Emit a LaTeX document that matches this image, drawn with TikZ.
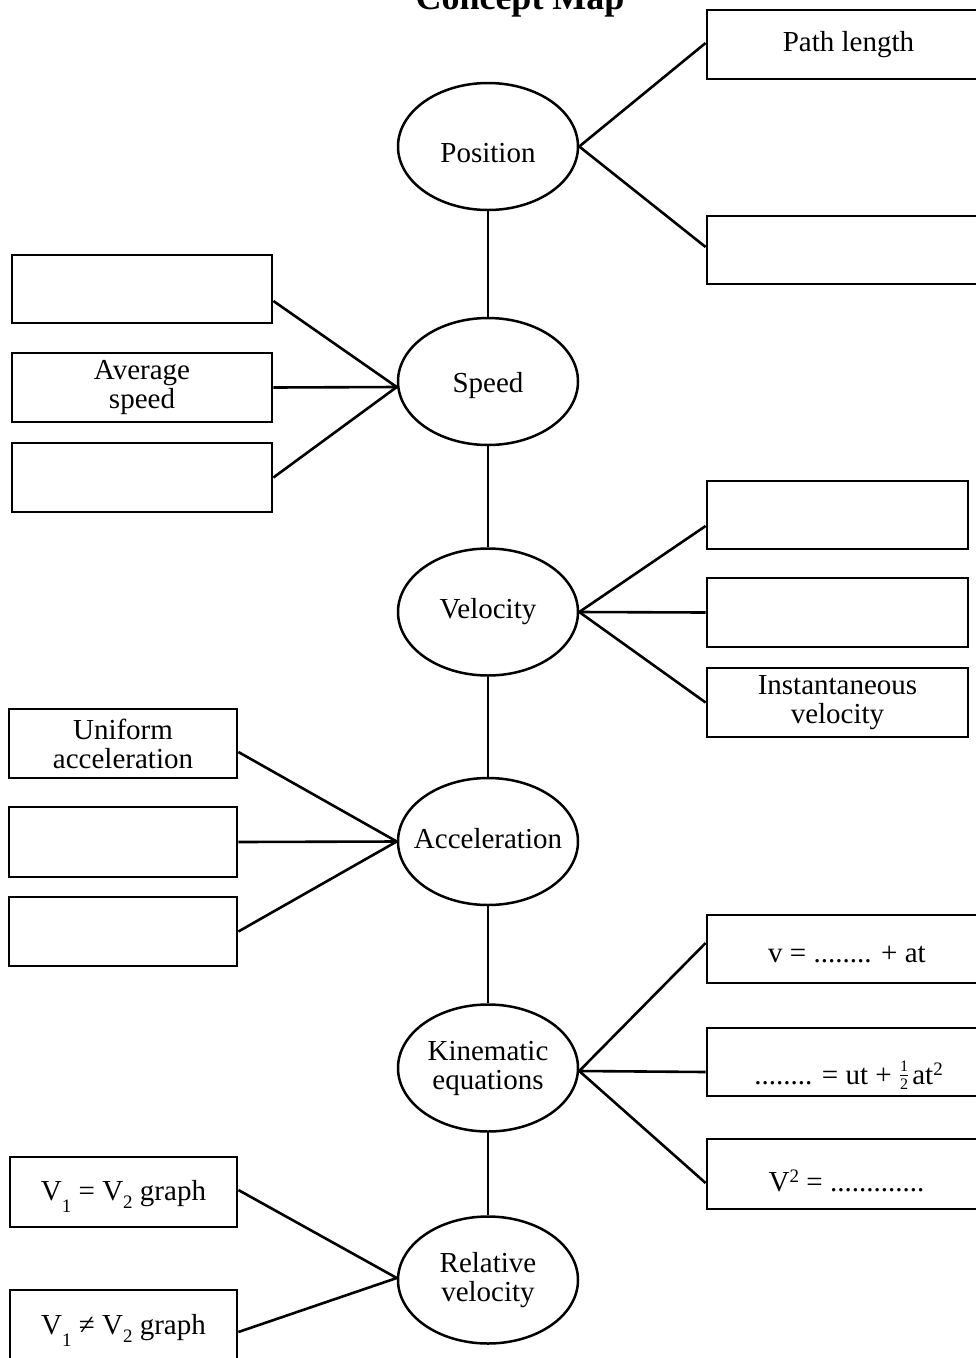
\documentclass[tikz,border=0pt]{standalone}
\usepackage{fontspec}
\setmainfont{Liberation Serif}
\usetikzlibrary{shapes.geometric,calc}
\newcommand\halfsym{\raisebox{3pt}{$\frac{\mbox{\fontsize{16}{16}\selectfont 1}}{\mbox{\fontsize{16}{16}\selectfont 2}}$}}
\newcommand\subdn[2]{\raisebox{#1}{\fontsize{19}{19}\selectfont #2}}
\newcommand\supup[1]{\raisebox{9pt}{\fontsize{19}{19}\selectfont #1}}
\begin{document}
\begin{tikzpicture}[x=1pt,y=-1pt,
  concept/.style={ellipse,draw,line width=2.5pt,minimum width=180pt,minimum height=127pt,inner sep=0pt},
  ctext/.style={align=center,inner sep=0pt,font=\fontsize{29}{29}\selectfont},
  cbox/.style={rectangle,draw,line width=2.8pt,inner sep=0pt,align=center,font=\fontsize{29}{29}\selectfont},
  rbox/.style={cbox,minimum width=283pt},
  vbox/.style={cbox,minimum width=261pt},
  sbox/.style={cbox,minimum width=260pt},
  abox/.style={cbox,minimum width=228pt},
  link/.style={line width=2.6pt}]
\useasboundingbox (0,0) rectangle (976,1358);
\clip (0,0) rectangle (976,1358);

\node[font=\bfseries\fontsize{36}{36}\selectfont,anchor=base,inner sep=0pt] (title) at (520,9) {Concept Map};

% concepts
\node[concept] (pos) at (488,146.5) {};
\node[ctext,anchor=base] (pos-t) at (488,162) {Position};
\node[concept] (spd) at (488,381.5) {};
\node[ctext,anchor=base] (spd-t) at (488,392) {Speed};
\node[concept] (vel) at (488,612) {};
\node[ctext,anchor=base] (vel-t) at (488,618) {Velocity};
\node[concept] (acc) at (488,841.5) {};
\node[ctext,anchor=base] (acc-t) at (488,848) {Acceleration};
\node[concept] (kin) at (488,1068) {};
\node[ctext] (kin-t) at (kin) {Kinematic\\equations};
\node[concept] (rel) at (488,1280) {};
\node[ctext] (rel-t) at (rel) {Relative\\velocity};

% boxes
\node[rbox,minimum height=69pt] (pl) at (848.5,44.5) {Path length};
\node[rbox,minimum height=68pt] (pb2) at (848.5,250) {};

\node[sbox,minimum height=68pt] (sb1) at (142,289) {};
\node[sbox,minimum height=69pt] (sb2) at (142,387.5) {Average\\speed};
\node[sbox,minimum height=69pt] (sb3) at (142,477.5) {};

\node[vbox,minimum height=68pt] (vb1) at (837.5,515) {};
\node[vbox,minimum height=69pt] (vb2) at (837.5,612.5) {};
\node[vbox,minimum height=69pt] (vb3) at (837.5,702.5) {Instantaneous\\velocity};

\node[abox,minimum height=69pt] (ab1) at (123,743.5) {Uniform\\acceleration};
\node[abox,minimum height=70pt] (ab2) at (123,842) {};
\node[abox,minimum height=69pt] (ab3) at (123,931.5) {};

\node[rbox,minimum height=68pt] (kb1) at (848.5,949) {};
\node[ctext,anchor=base] (kb1-t) at (847,962) {v = ........ + at};
\node[rbox,minimum height=68pt] (kb2) at (848.5,1062) {};
\node[ctext,anchor=base] (kb2-t) at (848.5,1084) {........ = ut + \halfsym\kern3pt at\supup{2}};
\node[rbox,minimum height=70pt] (kb3) at (848.5,1174) {};
\node[ctext,anchor=base] (kb3-t) at (846.5,1191) {V\supup{2} = .............};

\node[abox,minimum width=227pt,minimum height=70pt] (rb1) at (123.5,1192) {};
\node[ctext,anchor=base] (rb1-t) at (123.5,1200) {V\subdn{-12pt}{1} = V\subdn{-8pt}{2} graph};
\node[abox,minimum width=227pt,minimum height=74pt] (rb2) at (123.5,1327) {};
\node[ctext,anchor=base] (rb2-t) at (123.5,1334) {V\subdn{-12pt}{1} ≠ V\subdn{-8pt}{2} graph};

% spine
\draw[link] (pos) -- (spd);
\draw[link] (spd) -- (vel);
\draw[link] (vel) -- (acc);
\draw[link] (acc) -- (kin);
\draw[link] (kin) -- (rel);

% branches
\draw[link] (pos.east) -- ($(pl.west)+(0,-1.5)$);
\draw[link] (pos.east) -- ($(pb2.west)+(0,-3)$);

\draw[link] ($(spd.west)+(0,5.5)$) -- ($(sb1.east)+(0,12)$);
\draw[link] ($(spd.west)+(0,5.5)$) -- (sb2.east);
\draw[link] ($(spd.west)+(0,5.5)$) -- (sb3.east);

\draw[link] (vel.east) -- ($(vb1.west)+(0,11)$);
\draw[link] (vel.east) -- (vb2.west);
\draw[link] (vel.east) -- (vb3.west);

\draw[link] (acc.west) -- ($(ab1.east)+(0,8.5)$);
\draw[link] (acc.west) -- (ab2.east);
\draw[link] (acc.west) -- (ab3.east);

\draw[link] ($(kin.east)+(0,3)$) -- ($(kb1.west)+(0,-6)$);
\draw[link] ($(kin.east)+(0,3)$) -- ($(kb2.west)+(0,10)$);
\draw[link] ($(kin.east)+(0,3)$) -- ($(kb3.west)+(0,9)$);

\draw[link] ($(rel.west)+(0,-2)$) -- ($(rb1.east)+(0,-2)$);
\draw[link] ($(rel.west)+(0,-2)$) -- ($(rb2.east)+(0,5)$);
\end{tikzpicture}
\end{document}
